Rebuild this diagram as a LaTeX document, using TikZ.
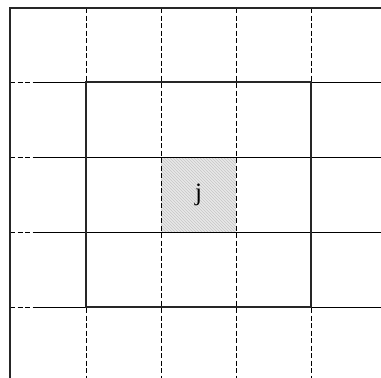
\documentclass[tikz,border=0pt]{standalone}
\usepackage{fontspec}
\setmainfont{Liberation Serif}
\usetikzlibrary{patterns}
\begin{document}
\begin{tikzpicture}[x=1pt,y=-1pt,
  thinline/.style={line width=0.9pt,black},
  dashline/.style={thinline,dash pattern=on 5pt off 2.5pt},
  thickline/.style={line width=2.4pt,black!85}]
\useasboundingbox (0,0) rectangle (381,378);
% shaded centre cell
\fill[gray!18] (161,157) rectangle (236,232);
\fill[pattern=north west lines,pattern color=gray!45] (161,157) rectangle (236,232);
\node[font=\fontsize{25}{25}\selectfont] (j) at (198.5,194.5) {j};
% vertical dashed grid lines
\foreach \x in {86,161,236,311} \draw[dashline] (\x,8) -- (\x,378);
% horizontal grid lines
\foreach \y in {82,157,232,307} {
  \draw[dashline] (10,\y) -- (37,\y);
  \draw[thinline] (37,\y) -- (381,\y);
}
% outer border (top and left)
\draw[thickline] (381,8) -- (10,8) -- (10,378);
% thick square
\draw[thickline] (86,82) rectangle (311,307);
\end{tikzpicture}
\end{document}
